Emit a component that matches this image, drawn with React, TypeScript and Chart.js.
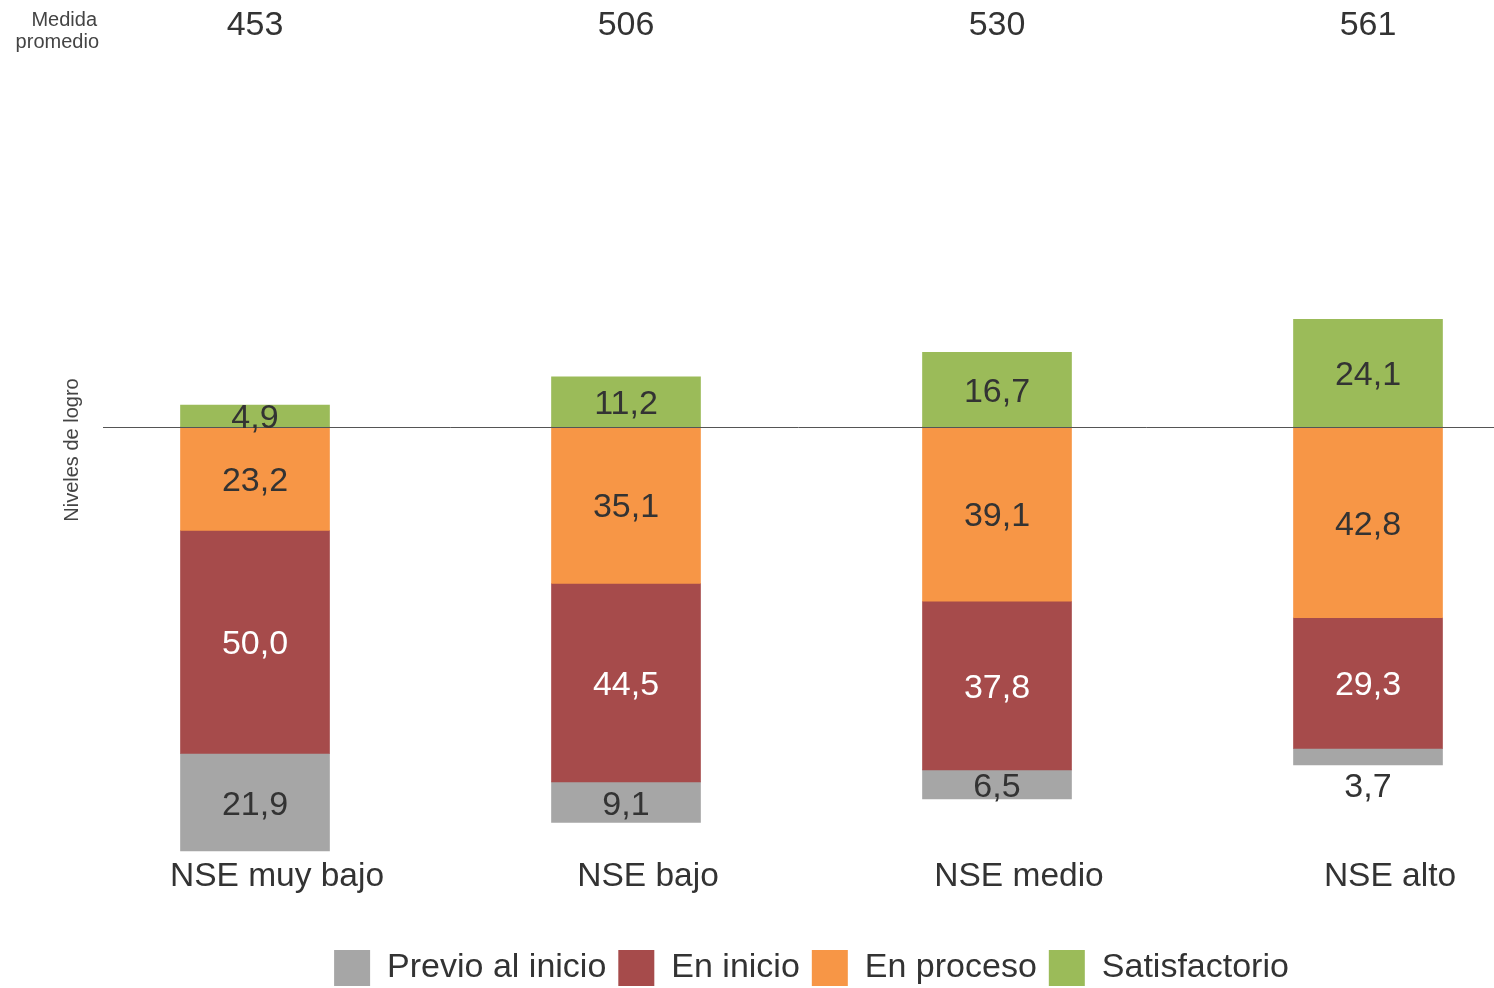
import React, { useEffect, useRef } from 'react';
import { Chart, registerables } from 'chart.js';

Chart.register(...registerables);

const categories = ['NSE muy bajo', 'NSE bajo', 'NSE medio', 'NSE alto'];
const mediaPromedio = [453, 506, 530, 561];
const previoAlInicio = [21.9, 9.1, 6.5, 3.7];
const enInicio = [50.0, 44.5, 37.8, 29.3];
const enProceso = [23.2, 35.1, 39.1, 42.8];
const satisfactorio = [4.9, 11.2, 16.7, 24.1];
const seriesNames = ['Satisfactorio', 'En proceso', 'En inicio', 'Previo al inicio'];
const seriesColors = ['#9bbb59', '#f79646', '#a64b4b', '#a6a6a6'];
const labelColors = ['#333333', '#333333', '#ffffff', '#333333'];
const yMin = -96;
const yMax = 80;

const FONT = "'Liberation Sans', Arial, Helvetica, sans-serif";

const fmt = (v: number) => Math.abs(v).toFixed(1).replace('.', ',');

const overlayPlugin = {
  id: 'overlay',
  afterDatasetsDraw(chart: any) {
    const { ctx, scales } = chart;
    const y0 = scales.y.getPixelForValue(0);
    ctx.save();
    // zero line
    ctx.strokeStyle = '#555555';
    ctx.lineWidth = 1;
    ctx.beginPath();
    ctx.moveTo(103, Math.round(y0) + 0.5);
    ctx.lineTo(chart.width, Math.round(y0) + 0.5);
    ctx.stroke();

    // data labels
    ctx.textAlign = 'center';
    ctx.textBaseline = 'middle';
    ctx.font = `34px ${FONT}`;
    chart.data.datasets.forEach((ds: any, di: number) => {
      const meta = chart.getDatasetMeta(di);
      meta.data.forEach((el: any, i: number) => {
        const v = ds.data[i];
        const top = Math.min(el.y, el.base);
        const bottom = Math.max(el.y, el.base);
        let y = (top + bottom) / 2;
        let color = labelColors[di];
        if (Math.abs(v) < 4) {
          y = bottom + 20;
          color = '#333333';
        }
        ctx.fillStyle = color;
        ctx.fillText(fmt(v), el.x, y + 3);
      });
    });

    // media promedio values
    const meta0 = chart.getDatasetMeta(0);
    ctx.fillStyle = '#333333';
    ctx.font = `34px ${FONT}`;
    meta0.data.forEach((el: any, i: number) => {
      ctx.fillText(String(mediaPromedio[i]), el.x, 26);
    });
    ctx.font = `20px ${FONT}`;
    ctx.fillStyle = '#444444';
    ctx.textAlign = 'right';
    ctx.fillText('Medida', 97, 20);
    ctx.fillText('promedio', 99, 42);

    // vertical axis caption
    ctx.textAlign = 'center';
    ctx.translate(72, 450);
    ctx.rotate(-Math.PI / 2);
    ctx.font = `20px ${FONT}`;
    ctx.fillStyle = '#444444';
    ctx.fillText('Niveles de logro', 0, 0);
    ctx.restore();
  },
};

export default function App() {
  const ref = useRef<HTMLCanvasElement>(null);

  useEffect(() => {
    document.body.style.margin = '0';
    Chart.defaults.font.family = FONT;
    const series = [satisfactorio, enProceso, enInicio, previoAlInicio];
    const chart = new Chart(ref.current as HTMLCanvasElement, {
      type: 'bar',
      data: {
        labels: categories,
        datasets: series.map((arr, k) => ({
          label: seriesNames[k],
          data: arr.map((v) => (k === 0 ? v : -v)),
          backgroundColor: seriesColors[k],
          borderWidth: 0,
          barThickness: 149,
          clip: false as any,
        })),
      },
      options: {
        responsive: false,
        animation: false,
        devicePixelRatio: 1,
        layout: { padding: { left: 255, right: 126, top: 70, bottom: -8 } },
        scales: {
          x: {
            type: 'category',
            stacked: true,
            offset: false,
            grid: { display: false },
            border: { display: false },
            ticks: {
              color: '#333333',
              font: { size: 33.5, family: FONT },
              labelOffset: 22,
              padding: -6,
              maxRotation: 0,
              autoSkip: false,
            },
            afterFit: (s: any) => {
              s.height = 83;
            },
          },
          y: {
            stacked: true,
            display: false,
            min: yMin,
            max: yMax,
          },
        },
        plugins: {
          tooltip: { enabled: false },
          legend: {
            position: 'bottom',
            fullSize: false,
            reverse: true,
            labels: {
              boxWidth: 36,
              boxHeight: 36,
              padding: 12,
              color: '#333333',
              font: { size: 34, family: FONT },
            },
          },
        },
      },
      plugins: [overlayPlugin],
    });
    return () => chart.destroy();
  }, []);

  return (
    <div style={{ width: 1494, height: 988 }}>
      <canvas ref={ref} width={1494} height={988} style={{ display: 'block' }} />
    </div>
  );
}
